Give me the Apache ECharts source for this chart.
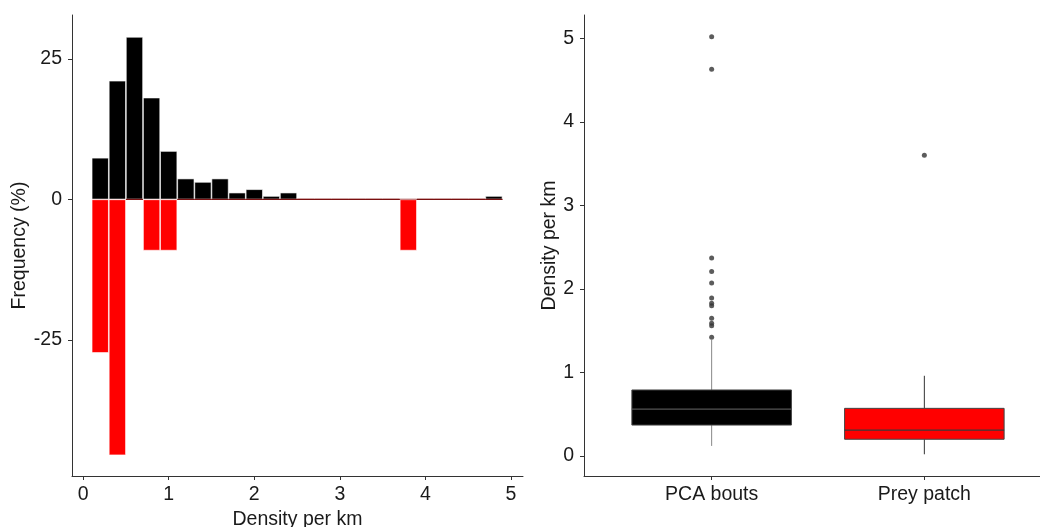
<!DOCTYPE html>
<html>
<head>
<meta charset="utf-8">
<script src="https://cdn.jsdelivr.net/npm/echarts@6/dist/echarts.min.js"></script>
<style>
  html, body { margin: 0; padding: 0; background: #fff; }
  #chart { width: 1040px; height: 527px; }
</style>
</head>
<body>
<div id="chart"></div>
<script>
  // histogram bins (centre of each 0.2-wide bin)
  const binCentres = [0.2, 0.4, 0.6, 0.8, 1.0, 1.2, 1.4, 1.6, 1.8, 2.0, 2.2, 2.4,
    2.6, 2.8, 3.0, 3.2, 3.4, 3.6, 3.8, 4.0, 4.2, 4.4, 4.6, 4.8];
  // PCA bouts, % per bin (drawn upwards)
  const pcaFreq = [7.4, 21.1, 28.9, 18.1, 8.6, 3.7, 3.1, 3.7, 1.2, 1.8, 0.6, 1.2,
    0, 0, 0, 0, 0, 0, 0, 0, 0, 0, 0, 0.6];
  // prey patch, % per bin (drawn downwards)
  const preyFreq = [-27.3, -45.5, 0, -9.1, -9.1, 0, 0, 0, 0, 0, 0, 0,
    0, 0, 0, 0, 0, 0, -9.1, 0, 0, 0, 0, 0];
  const histYTicks = [-25, 0, 25];
  const histXTicks = [0, 1, 2, 3, 4, 5];

  // boxplot: [min, Q1, median, Q3, max]
  const groups = ['PCA bouts', 'Prey patch'];
  const boxStats = [
    [0.12, 0.37, 0.56, 0.79, 1.39],
    [0.02, 0.20, 0.31, 0.57, 0.96]
  ];
  const pcaOutliers = [1.42, 1.56, 1.59, 1.65, 1.80, 1.83, 1.89, 2.07, 2.21, 2.37, 4.63, 5.02];
  const preyOutliers = [3.60];
  const boxYTicks = [0, 1, 2, 3, 4, 5];

  const font = 'Liberation Sans, Arial, sans-serif';
  const lineCol = '#333';
  const textCol = '#1a1a1a';
  const fs = 19.5;

  // look of each box (fill, outline, whisker, median)
  const boxLooks = [
    { fill: '#000', border: '#444', whisker: '#888', median: '#555' },
    { fill: '#ff0000', border: '#444', whisker: '#333', median: '#3a3a3a' }
  ];

  const chart = echarts.init(document.getElementById('chart'), null, { renderer: 'canvas' });

  function zeroStyled(arr) {
    return arr.map((v, i) => {
      const item = { value: [binCentres[i], v] };
      if (v === 0) item.itemStyle = { borderColor: '#7a1010', borderWidth: 1 };
      return item;
    });
  }

  function renderBox(params, api) {
    const cat = api.value(0);
    const lo = api.coord([cat, api.value(1)]);
    const q1 = api.coord([cat, api.value(2)]);
    const med = api.coord([cat, api.value(3)]);
    const q3 = api.coord([cat, api.value(4)]);
    const hi = api.coord([cat, api.value(5)]);
    const half = api.size([1, 0])[0] * 0.375;
    const s = boxLooks[params.dataIndex];
    return {
      type: 'group',
      children: [
        { type: 'line', shape: { x1: lo[0], y1: lo[1], x2: q1[0], y2: q1[1] },
          style: { stroke: s.whisker, lineWidth: 1 } },
        { type: 'line', shape: { x1: q3[0], y1: q3[1], x2: hi[0], y2: hi[1] },
          style: { stroke: s.whisker, lineWidth: 1 } },
        { type: 'rect', shape: { x: q3[0] - half, y: q3[1], width: half * 2, height: q1[1] - q3[1] },
          style: { fill: s.fill, stroke: s.border, lineWidth: 1 } },
        { type: 'line', shape: { x1: med[0] - half, y1: med[1], x2: med[0] + half, y2: med[1] },
          style: { stroke: s.median, lineWidth: 1.2 } }
      ]
    };
  }

  const axisLine = { show: true, onZero: false, lineStyle: { color: lineCol, width: 1 } };
  const axisTick = { show: true, length: 4, lineStyle: { color: lineCol } };

  const option = {
    backgroundColor: '#fff',
    animation: false,
    textStyle: { fontFamily: font },
    grid: [
      { left: 72, top: 15, width: 451, height: 461, outerBoundsMode: 'none' },
      { left: 584, top: 15, right: 0, height: 461, outerBoundsMode: 'none' },
      { left: 605.3, top: 15, width: 425.4, height: 461, outerBoundsMode: 'none' }
    ],
    xAxis: [
      {
        gridIndex: 0, type: 'value', min: -0.13, max: 5.14,
        axisLine: axisLine,
        axisTick: Object.assign({ customValues: histXTicks }, axisTick),
        axisLabel: { customValues: histXTicks, color: textCol, fontSize: fs, margin: 9 },
        splitLine: { show: false },
        name: 'Density per km', nameLocation: 'middle', nameGap: 31,
        nameTextStyle: { color: textCol, fontSize: fs }
      },
      {
        gridIndex: 1, type: 'value', min: 0, max: 1,
        axisLine: axisLine, axisTick: { show: false }, axisLabel: { show: false },
        splitLine: { show: false }
      },
      {
        gridIndex: 2, type: 'category', data: groups,
        axisLine: { show: false, onZero: false },
        axisTick: Object.assign({ alignWithLabel: true }, axisTick),
        axisLabel: { color: textCol, fontSize: fs, margin: 9 },
        splitLine: { show: false }
      }
    ],
    yAxis: [
      {
        gridIndex: 0, type: 'value', min: -49.2, max: 32.8,
        axisLine: axisLine,
        axisTick: Object.assign({ customValues: histYTicks }, axisTick),
        axisLabel: { customValues: histYTicks, color: textCol, fontSize: fs, margin: 10 },
        splitLine: { show: false },
        name: 'Frequency (%)', nameLocation: 'middle', nameGap: 42,
        nameTextStyle: { color: textCol, fontSize: fs }
      },
      {
        gridIndex: 1, type: 'value', show: false, min: 0, max: 1
      },
      {
        gridIndex: 2, type: 'value', min: -0.24, max: 5.28, offset: 21.3,
        axisLine: axisLine,
        axisTick: Object.assign({ customValues: boxYTicks }, axisTick),
        axisLabel: { customValues: boxYTicks, color: textCol, fontSize: fs, margin: 10 },
        splitLine: { show: false },
        name: 'Density per km', nameLocation: 'middle', nameGap: 24,
        nameTextStyle: { color: textCol, fontSize: fs }
      }
    ],
    series: [
      {
        type: 'bar', xAxisIndex: 0, yAxisIndex: 0,
        barWidth: 17, barGap: '-100%',
        itemStyle: { color: '#000', borderColor: '#fff', borderWidth: 0.6 },
        data: zeroStyled(pcaFreq)
      },
      {
        type: 'bar', xAxisIndex: 0, yAxisIndex: 0,
        barWidth: 17, barGap: '-100%',
        itemStyle: { color: '#ff0000', borderColor: '#fff', borderWidth: 0.6 },
        data: zeroStyled(preyFreq)
      },
      {
        type: 'custom', xAxisIndex: 2, yAxisIndex: 2,
        renderItem: renderBox,
        encode: { x: 0, y: [1, 2, 3, 4, 5] },
        data: boxStats.map((b, i) => [i].concat(b))
      },
      {
        type: 'scatter', xAxisIndex: 2, yAxisIndex: 2,
        symbol: 'circle', symbolSize: 5,
        itemStyle: { color: '#333' },
        data: pcaOutliers.map(v => [groups[0], v]).concat(preyOutliers.map(v => [groups[1], v]))
      }
    ]
  };

  chart.setOption(option);
  window.addEventListener('resize', function () {
    chart.resize();
  });
</script>
</body>
</html>
